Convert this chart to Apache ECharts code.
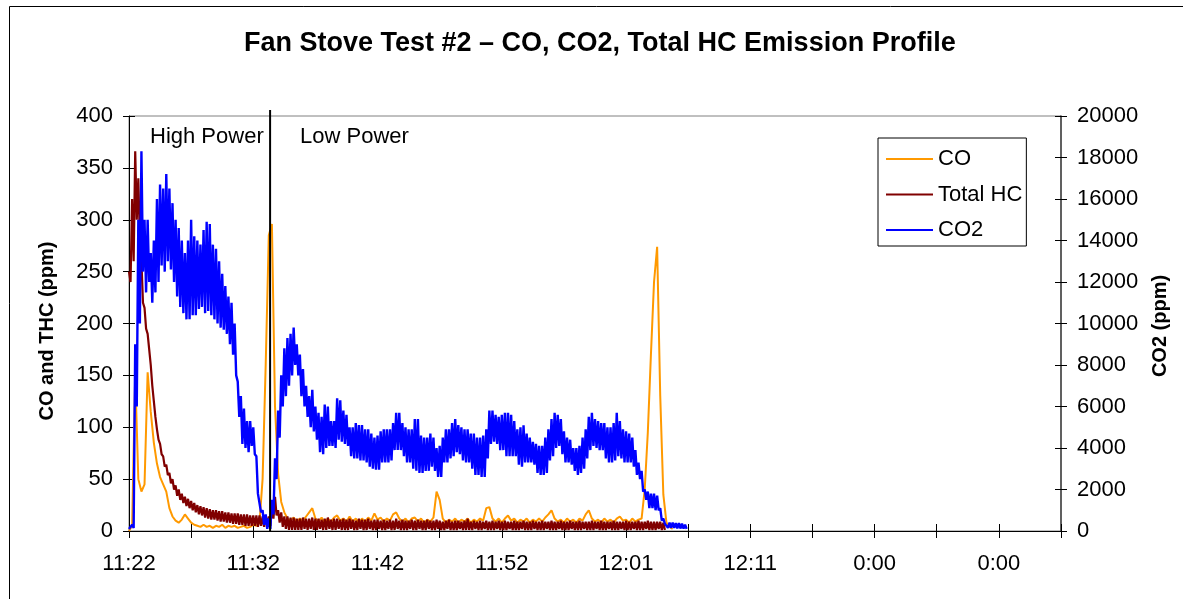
<!DOCTYPE html>
<html>
<head>
<meta charset="utf-8">
<title>Fan Stove Test #2</title>
<script src="https://cdn.jsdelivr.net/npm/echarts@6/dist/echarts.min.js"></script>
<style>
html, body { margin: 0; padding: 0; background: #fff; }
#chart { width: 1183px; height: 599px; }
</style>
</head>
<body>
<div id="chart"></div>
<script>
// minutes between x-axis ticks, and between logged samples
const tickStep = 4.8
const coStep = 0.24
const fineStep = 0.12 // HC and CO2 were read at a finer spacing (noisy traces)
const xTickLabels = ['11:22', '', '11:32', '', '11:42', '', '11:52', '', '12:01', '', '12:11', '', '0:00', '', '0:00', '']
const dividerAt = 10.9 // switch from high to low power (minutes)

// CO (ppm), left axis
const coPpm = [
  0, 5, 150, 50, 38, 45, 153, 115, 85, 65,
  52, 45, 38, 22, 14, 10, 8, 11, 16, 12,
  8, 6, 5, 4, 6, 4, 5, 3, 5, 4,
  6, 3, 5, 4, 5, 3, 4, 5, 3, 4,
  6, 5, 8, 50, 160, 285, 296, 120, 55, 28,
  18, 12, 10, 13, 9, 12, 10, 14, 18, 22,
  12, 9, 13, 8, 12, 9, 13, 15, 10, 12,
  9, 14, 9, 12, 8, 12, 9, 13, 10, 17,
  11, 13, 9, 12, 10, 16, 18, 12, 9, 12,
  8, 12, 13, 9, 12, 8, 11, 9, 13, 38,
  30, 12, 8, 11, 9, 12, 8, 11, 9, 12,
  8, 11, 9, 12, 10, 22, 23, 12, 9, 12,
  8, 12, 15, 10, 12, 8, 11, 9, 12, 8,
  11, 9, 12, 9, 13, 16, 20, 12, 9, 11,
  8, 12, 9, 11, 8, 12, 10, 16, 20, 12,
  9, 11, 8, 12, 9, 11, 8, 12, 14, 10,
  11, 8, 12, 9, 11, 12, 40, 95, 170, 240,
  274, 130, 35, 8, 4, 2
]

// Total HC (ppm), left axis
const hcPpm = [
  250, 240, 320, 260, 366, 300, 340, 280, 260, 220, 215, 195, 190, 175, 160, 140, 125, 110, 98, 88,
  84, 74, 72, 62, 64, 54, 56, 46, 50, 40, 44, 34, 40, 30, 36, 27, 33, 24, 31, 22,
  29, 20, 27, 18, 25, 16, 24, 15, 23, 13, 22, 12, 21, 11, 20, 11, 20, 10, 19, 9,
  19, 9, 18, 8, 18, 8, 17, 7, 17, 7, 17, 6, 16, 6, 16, 5, 16, 5, 15, 5,
  15, 5, 15, 4, 15, 5, 14, 4, 15, 5, 14, 5, 22, 12, 33, 15, 20, 8, 18, 4,
  14, 2, 14, 1, 13, 1, 13, 1, 12, 1, 12, 1, 13, 2, 12, 1, 12, 2, 13, 1,
  12, 1, 12, 2, 11, 1, 12, 1, 13, 2, 11, 1, 12, 1, 12, 2, 11, 1, 12, 1,
  11, 1, 12, 2, 11, 1, 10, 1, 12, 2, 11, 1, 11, 1, 12, 2, 10, 1, 11, 1,
  11, 2, 10, 1, 11, 1, 10, 2, 11, 1, 10, 1, 12, 2, 10, 1, 11, 1, 10, 1,
  10, 2, 11, 1, 10, 1, 11, 2, 10, 1, 10, 1, 11, 2, 10, 1, 10, 1, 11, 2,
  10, 1, 9, 1, 10, 2, 11, 1, 9, 1, 10, 1, 10, 2, 9, 1, 10, 1, 12, 1,
  9, 1, 10, 2, 9, 1, 10, 1, 9, 2, 10, 1, 9, 1, 10, 1, 9, 2, 10, 1,
  9, 1, 10, 1, 9, 2, 9, 1, 10, 1, 9, 1, 9, 2, 10, 1, 9, 1, 9, 1,
  10, 2, 9, 1, 9, 1, 10, 1, 9, 2, 9, 1, 10, 1, 9, 1, 9, 2, 10, 1,
  9, 1, 9, 1, 10, 2, 9, 1, 9, 1, 10, 1, 9, 2, 9, 1, 9, 1, 10, 1,
  9, 2, 9, 1, 10, 1, 9, 1, 9, 2, 9, 1, 10, 1, 9, 1, 9, 2, 9, 1,
  10, 1, 9, 1, 9, 2, 9, 1, 10, 1, 9, 1, 9, 2, 10, 1, 9, 1, 9, 1,
  9, 2, 9, 1, 8, 1
]

// CO2 (ppm), right axis
const co2Ppm = [
  100, 80, 300, 150, 9000, 6000, 15000, 10000, 18300, 12500, 15000, 11500, 15000, 12000, 13400, 11000, 14000, 11500, 16000, 12000,
  16700, 12800, 16500, 12500, 17200, 13000, 16500, 12600, 15800, 12000, 15000, 11300, 14600, 10800, 14000, 10500, 13400, 10200, 14000, 10200,
  15000, 10400, 14200, 10400, 14000, 10700, 13800, 10800, 14500, 10500, 14900, 10600, 14800, 10400, 13800, 10200, 13600, 10000, 13000, 9800,
  12400, 9700, 11800, 9500, 11300, 9000, 11000, 8500, 10000, 7500, 7200, 5500, 6500, 4200, 5900, 4000, 5300, 3800, 5300, 4100,
  5000, 3700, 3600, 1800, 1800, 900, 1000, 300, 800, 100, 600, 100, 1500, 800, 3500, 2500, 5800, 4500, 7500, 6000,
  8800, 6500, 9300, 7000, 9500, 7500, 9800, 8000, 9000, 7500, 8500, 6500, 7800, 6000, 7000, 5500, 6500, 5000, 6800, 4800,
  6000, 4400, 5700, 3800, 5500, 3700, 6100, 4000, 6000, 4100, 5300, 4100, 5300, 4000, 6400, 4400, 6300, 4300, 5800, 4200,
  5600, 4100, 5000, 3600, 5000, 3500, 5200, 3500, 5100, 3400, 5100, 3400, 4900, 3300, 4900, 3100, 4700, 3000, 4500, 2950,
  4600, 2950, 4800, 3300, 4900, 3300, 4900, 3300, 4900, 3400, 5200, 3900, 5700, 3900, 5700, 3900, 5200, 3600, 5000, 3300,
  4900, 3300, 4900, 3000, 5400, 2900, 5400, 2800, 4600, 2800, 4500, 2900, 4500, 2900, 4700, 3100, 4500, 2900, 4000, 2600,
  4100, 2600, 4500, 3300, 4900, 3300, 4900, 3500, 5200, 3600, 5400, 3800, 5100, 3700, 5000, 3400, 4900, 3300, 4900, 3300,
  4700, 3000, 4700, 2700, 4500, 2700, 4500, 2600, 4600, 2600, 4900, 3500, 5800, 4200, 5800, 4300, 5600, 4200, 5500, 3900,
  5600, 3900, 5700, 3600, 5700, 3600, 5600, 3600, 5300, 3600, 4900, 3200, 5000, 3100, 5100, 3300, 4700, 3300, 4500, 3300,
  4300, 3200, 4200, 2800, 4100, 2700, 4100, 2700, 4500, 2800, 4900, 3400, 5400, 3600, 5700, 4000, 5600, 4100, 5400, 3700,
  4800, 3300, 4500, 3300, 4400, 3200, 4000, 2900, 4000, 2700, 4100, 2800, 4500, 3000, 4900, 3500, 5500, 3900, 5700, 4100,
  5400, 4000, 5300, 3900, 5200, 3900, 5200, 3500, 5000, 3300, 5000, 3300, 5200, 3400, 5700, 3600, 5300, 3500, 4900, 3300,
  4800, 3300, 4700, 3300, 4500, 3100, 3900, 2700, 3300, 2500, 2900, 1900, 2000, 1500, 1900, 1100, 1800, 1100, 1800, 1000,
  1700, 1000, 1100, 500, 600, 350, 420, 150, 400, 150, 400, 150, 380, 130, 380, 120, 350, 120, 300, 100
]

const font = "'Liberation Sans', Arial, sans-serif"
const toPoints = (arr, step) => arr.map((v, i) => [+(i * step).toFixed(2), v])

const gridBox = { left: 129, right: 122, top: 116, bottom: 68, outerBoundsMode: 'none' }

const chart = echarts.init(document.getElementById('chart'))
const option = {
  animation: false,
  backgroundColor: '#fff',
  title: {
    text: 'Fan Stove Test #2 – CO, CO2, Total HC Emission Profile',
    left: 244,
    top: 30,
    padding: 0,
    textStyle: { fontFamily: font, fontSize: 27, fontWeight: 'bold', color: '#000' }
  },
  legend: {
    orient: 'vertical',
    left: 878,
    top: 138,
    padding: [10, 4, 5, 8],
    icon: 'rect',
    itemWidth: 47,
    itemHeight: 2,
    itemGap: 13.5,
    borderColor: '#000',
    borderWidth: 1,
    textStyle: { fontFamily: font, fontSize: 22, color: '#000', lineHeight: 22 },
    data: ['CO', 'Total HC', 'CO2']
  },
  grid: [
    Object.assign({ show: true, borderColor: '#808080', borderWidth: 1, backgroundColor: 'transparent' }, gridBox),
    Object.assign({}, gridBox),
    // divider line sticks out a little above the plot, like the original
    Object.assign({}, gridBox, { top: 110 })
  ],
  xAxis: [
    {
      type: 'value', gridIndex: 0, min: 0, max: 72, interval: tickStep,
      axisLine: { show: true, lineStyle: { color: '#000', width: 1 } },
      axisTick: { show: true, length: 7, lineStyle: { color: '#000' } },
      axisLabel: {
        margin: 22, fontSize: 22, fontFamily: font, color: '#000',
        formatter: v => xTickLabels[Math.round(v / tickStep)] || ''
      },
      splitLine: { show: false }
    },
    {
      // second copy so the ticks cross the axis line
      type: 'value', gridIndex: 1, min: 0, max: 72, interval: tickStep,
      axisLine: { show: false },
      axisTick: { show: true, inside: true, length: 7, lineStyle: { color: '#000' } },
      axisLabel: { show: false },
      splitLine: { show: false }
    },
    {
      type: 'value', gridIndex: 2, min: 0, max: 72, show: false
    }
  ],
  yAxis: [
    {
      type: 'value', gridIndex: 0, position: 'left', min: 0, max: 400, interval: 50,
      axisLine: { show: true, lineStyle: { color: '#000', width: 1 } },
      axisTick: { show: true, length: 6, lineStyle: { color: '#000' } },
      axisLabel: { margin: 16, fontSize: 22, fontFamily: font, color: '#000', formatter: v => String(v) },
      splitLine: { show: false }
    },
    {
      type: 'value', gridIndex: 0, position: 'right', min: 0, max: 20000, interval: 2000,
      axisLine: { show: true, lineStyle: { color: '#404040', width: 1.5 } },
      axisTick: { show: true, length: 6, lineStyle: { color: '#000' } },
      axisLabel: { margin: 16, fontSize: 22, fontFamily: font, color: '#000', formatter: v => String(v) },
      splitLine: { show: false }
    },
    {
      type: 'value', gridIndex: 1, position: 'left', min: 0, max: 400, interval: 50,
      axisLine: { show: false },
      axisTick: { show: true, inside: true, length: 6, lineStyle: { color: '#000' } },
      axisLabel: { show: false },
      splitLine: { show: false }
    },
    {
      type: 'value', gridIndex: 1, position: 'right', min: 0, max: 20000, interval: 2000,
      axisLine: { show: false },
      axisTick: { show: true, inside: true, length: 6, lineStyle: { color: '#000' } },
      axisLabel: { show: false },
      splitLine: { show: false }
    },
    {
      type: 'value', gridIndex: 2, min: 0, max: 1, show: false
    }
  ],
  series: [
    {
      name: 'CO', type: 'line', xAxisIndex: 0, yAxisIndex: 0,
      data: toPoints(coPpm, coStep), symbol: 'none',
      lineStyle: { color: '#FF9900', width: 2 }, itemStyle: { color: '#FF9900' }
    },
    {
      name: 'Total HC', type: 'line', xAxisIndex: 0, yAxisIndex: 0,
      data: toPoints(hcPpm, fineStep), symbol: 'none',
      lineStyle: { color: '#800000', width: 2.2 }, itemStyle: { color: '#800000' }
    },
    {
      name: 'CO2', type: 'line', xAxisIndex: 0, yAxisIndex: 1,
      data: toPoints(co2Ppm, fineStep), symbol: 'none',
      lineStyle: { color: '#0000FF', width: 2.4 }, itemStyle: { color: '#0000FF' }
    },
    {
      name: 'divider', type: 'line', xAxisIndex: 2, yAxisIndex: 4,
      data: [[dividerAt, 0], [dividerAt, 1]], symbol: 'none', silent: true,
      lineStyle: { color: '#000', width: 2 }, z: 5
    }
  ],
  graphic: [
    { type: 'rect', shape: { x: 9.5, y: 6.5, width: 1300, height: 700 }, style: { fill: 'none', stroke: '#000', lineWidth: 1 }, silent: true },
    { type: 'text', x: 150, y: 137, style: { text: 'High Power', fontFamily: font, fontSize: 22, fill: '#000', verticalAlign: 'middle' } },
    { type: 'text', x: 300, y: 137, style: { text: 'Low Power', fontFamily: font, fontSize: 22, fill: '#000', verticalAlign: 'middle' } },
    { type: 'text', x: 47, y: 331, rotation: Math.PI / 2, style: { text: 'CO and THC (ppm)', fontFamily: font, fontSize: 20, fontWeight: 'bold', fill: '#000', align: 'center', verticalAlign: 'middle' } },
    { type: 'text', x: 1160, y: 326, rotation: Math.PI / 2, style: { text: 'CO2 (ppm)', fontFamily: font, fontSize: 20, fontWeight: 'bold', fill: '#000', align: 'center', verticalAlign: 'middle' } }
  ]
}
chart.setOption(option)
</script>
</body>
</html>
